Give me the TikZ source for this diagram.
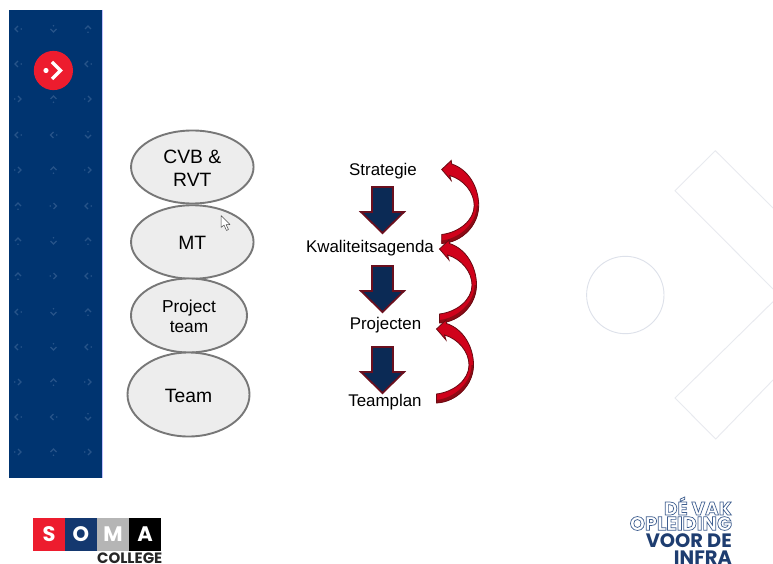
\documentclass[tikz,border=0pt]{standalone}
\usepackage{fontspec}
\setmainfont{Liberation Sans}
\newfontfamily\pop{Poppins}
\usetikzlibrary{shapes.geometric}
\definecolor{navy}{HTML}{003470}
\definecolor{glyphc}{HTML}{275489}
\definecolor{somared}{HTML}{ED1C2E}
\definecolor{somablue}{HTML}{14386F}
\definecolor{somagrey}{HTML}{B5B5B5}
\definecolor{ellfill}{HTML}{EDEDED}
\definecolor{ellline}{HTML}{777777}
\definecolor{blockfill}{HTML}{0B2A55}
\definecolor{blockline}{HTML}{6A0F1E}
\definecolor{curvered}{HTML}{D0021B}
\definecolor{curvedark}{HTML}{8E0A14}
\definecolor{curveline}{HTML}{6A0A12}
\definecolor{bgline}{HTML}{E8EAEF}
\definecolor{bgcircle}{HTML}{DDE1EA}
\definecolor{slogan}{HTML}{1E3D70}
\definecolor{sloganlight}{HTML}{3F5F90}
\tikzset{
  x=1pt,y=-1pt,
  level/.style={ellipse,draw=ellline,fill=ellfill,line width=1.9pt,inner sep=0pt},
  leveltext/.style={inner sep=0pt,align=center,yshift=-1pt,font=\fontsize{19.3}{23}\selectfont,text=black},
  steplabel/.style={inner sep=0pt,font=\fontsize{16.9}{20}\selectfont,text=black},
  blockarrow/.style={fill=blockfill,draw=blockline,line width=1.8pt,line join=miter},
  glyphline/.style={draw=glyphc,line width=1.2pt},
  sogo/.style={inner sep=0pt,text=white,font=\pop\bfseries\fontsize{21}{21}\selectfont},
  slog/.style={inner sep=0pt,anchor=east,text=slogan,font=\pop\bfseries\fontsize{19.4}{17.5}\selectfont},
}
% small chevron with dot: #1 x, #2 y, #3 direction
\newcommand{\gly}[3]{\begin{scope}[shift={(#1,#2)},rotate=#3]
  \draw[glyphline] (0,-3) -- (3,0) -- (0,3);
  \fill[glyphc] (-3.2,0) circle (0.9);
\end{scope}}
\newcommand{\blockarr}[2]{\begin{scope}[shift={(#1,#2)}]
  \path[blockarrow] (-10.5,0) -- (10.5,0) -- (10.5,25) -- (21.5,25) -- (0,46) -- (-21.5,25) -- (-10.5,25) -- cycle;
\end{scope}}
\newcommand{\curvearr}[2]{\begin{scope}[shift={(#1,#2)}]
  \fill[curvered] (0,0) -- (9.5,-9) -- (10,-5.5) .. controls (27,0) and (37,18) .. (37,36)
     .. controls (37,56) and (20,73) .. (0,74) -- (0,65)
     .. controls (17,63) and (32.5,51) .. (32.5,36) .. controls (32.5,23) and (22,10) .. (8,6) -- (9.5,11) -- cycle;
  \fill[curvedark] (37,36) .. controls (37,56) and (20,73) .. (0,74) -- (0,71)
     .. controls (18,69) and (35,54) .. (35,36) -- cycle;
  \draw[curveline,line width=0.8pt,line join=miter] (0,0) -- (9.5,-9) -- (10,-5.5) .. controls (27,0) and (37,18) .. (37,36)
     .. controls (37,56) and (20,73) .. (0,74) -- (0,65)
     .. controls (17,63) and (32.5,51) .. (32.5,36) .. controls (32.5,23) and (22,10) .. (8,6) -- (9.5,11) -- cycle;
\end{scope}}
\newcommand{\outl}[1]{{\color{sloganlight}\special{pdf:code 1 Tr 0.7 w}#1\special{pdf:code 0 Tr}}}
\begin{document}
\begin{tikzpicture}
\useasboundingbox (0,0) rectangle (773,564);
\fill[white] (0,0) rectangle (773,564);
% background shapes
\draw[bgline,line width=0.9pt] (773,208) -- (715.3,150.7) -- (675,190.7) -- (773,289);
\draw[bgline,line width=0.9pt] (773,301.7) -- (675,398) -- (715.7,439) -- (773,380);
\draw[bgcircle,line width=0.9pt] (625.3,295) circle (38.7);
% sidebar
\fill[navy] (9,10) rectangle (102,477.5);
\draw[blue!25!white,line width=0.5pt] (102.3,10) -- (102.3,477.5);
\def\ga{18}\def\gb{53.5}\def\gc{88}
\def\U{90}\def\D{-90}\def\L{180}\def\R{0}
\gly{\ga}{29}{\L}\gly{\gb}{29}{\D}\gly{\gc}{29}{\U}
\gly{\ga}{64}{\L}\gly{\gc}{64}{\L}
\gly{\ga}{99}{\R}\gly{\gb}{99}{\U}\gly{\gc}{99}{\R}
\gly{\ga}{135}{\L}\gly{\gb}{135}{\L}\gly{\gc}{135}{\D}
\gly{\ga}{170}{\R}\gly{\gb}{170}{\U}\gly{\gc}{170}{\R}
\gly{\ga}{206}{\U}\gly{\gb}{206}{\R}\gly{\gc}{206}{\L}
\gly{\ga}{241}{\U}\gly{\gb}{241}{\D}\gly{\gc}{241}{\U}
\gly{\ga}{276}{\U}\gly{\gb}{276}{\R}\gly{\gc}{276}{\L}
\gly{\ga}{312}{\L}\gly{\gb}{312}{\D}\gly{\gc}{312}{\U}
\gly{\ga}{347}{\L}\gly{\gb}{347}{\D}\gly{\gc}{347}{\L}
\gly{\ga}{382}{\R}\gly{\gb}{382}{\U}\gly{\gc}{382}{\R}
\gly{\ga}{417}{\L}\gly{\gb}{417}{\L}\gly{\gc}{417}{\D}
\gly{\ga}{452}{\R}\gly{\gb}{452}{\U}\gly{\gc}{452}{\R}
% logo badge
\fill[somared] (53.4,70.5) circle (19.6);
\fill[white] (46,70.5) circle (2.6);
\draw[white,line width=3.2pt] (52,62) -- (60.5,70.5) -- (52,79);
% levels
\node[level,minimum width=122.5pt,minimum height=73pt] (cvb) at (192.3,167) {};
\node[level,minimum width=122.5pt,minimum height=73.5pt] (mt) at (192.3,242) {};
\node[level,minimum width=116pt,minimum height=74pt] (proj) at (189,315.5) {};
\node[level,minimum width=122pt,minimum height=84pt] (team) at (188.5,394.5) {};
\node[leveltext] (cvbt) at (cvb) {CVB \&\\RVT};
\node[leveltext] (mtt) at (mt) {MT};
\node[leveltext,font=\fontsize{17.3}{20}\selectfont] (projt) at (proj) {Project\\team};
\node[leveltext] (teamt) at (team) {Team};
% cursor
\draw[fill=white,draw=black!70,line width=0.5pt,line join=round] (221,215.5) -- (221,227.5) -- (224,225) -- (226.5,230.5) -- (228.5,229.5) -- (226,224.5) -- (230,224.5) -- cycle;
% step labels
\node[steplabel] (strat) at (383,171) {Strategie};
\node[steplabel] (kwal) at (370,248) {Kwaliteitsagenda};
\node[steplabel] (projn) at (385.5,325) {Projecten};
\node[steplabel] (tplan) at (385,402) {Teamplan};
% block arrows
\blockarr{382.5}{187}
\blockarr{382.5}{266}
\blockarr{382.5}{347}
% curved arrows
\curvearr{441.7}{169.5}
\curvearr{439.5}{249}
\curvearr{436.5}{329}
% SOMA logo
\fill[somared] (33,518) rectangle (65,551);
\fill[somablue] (65,518) rectangle (97,551);
\fill[somagrey] (97,518) rectangle (129,551);
\fill[black] (129,518) rectangle (161,551);
\node[sogo] (ls) at (49,534.5) {S};
\node[sogo] (lo) at (81,534.5) {O};
\node[sogo] (lm) at (113,534.5) {M};
\node[sogo] (la) at (145,534.5) {A};
\node[inner sep=0pt,anchor=east,text=black!85,font=\pop\bfseries\fontsize{15}{15}\selectfont] (college) at (162.5,558.5) {COLLEGE};
% slogan
\node[slog,font=\pop\bfseries\fontsize{18.6}{17.5}\selectfont] (s1) at (732,506) {\outl{DÉ VAK}};
\node[slog] (s2) at (732,523.5) {\outl{OPLEIDING}};
\node[slog] (s3) at (732,541) {VOOR DE};
\node[slog] (s4) at (732,557.5) {INFRA};
\end{tikzpicture}
\end{document}
